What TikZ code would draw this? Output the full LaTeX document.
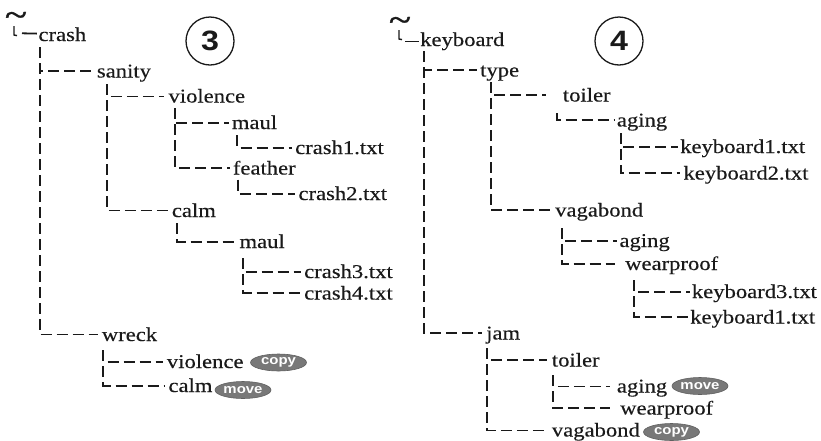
\documentclass[tikz,border=0pt]{standalone}
\usepackage{fontspec}
\setmainfont{Liberation Serif}[FakeStretch=1.16,FakeBold=0.3]
\newfontfamily\badgefont{Liberation Sans}[FakeStretch=1.15]
\newfontfamily\homefont{Liberation Serif}[FakeStretch=1.2,FakeBold=1.2]
\usetikzlibrary{shapes.geometric}
\definecolor{ink}{HTML}{1A1A1A}
\definecolor{badgegray}{HTML}{787878}
\begin{document}
\begin{tikzpicture}[x=1pt,y=-1pt,
  lbl/.style={anchor=base west, inner sep=0pt, text=ink, font=\fontsize{19.5}{21}\selectfont},
  conn/.style={draw=ink, line width=1.8pt, dash pattern=on 11pt off 5pt},
  rootdash/.style={draw=ink, line width=1.8pt},
  hook/.style={draw=ink, line width=1.4pt},
  home/.style={inner sep=0pt, text=ink, font=\homefont\fontsize{34}{34}\selectfont},
  badge/.style={ellipse, fill=badgegray, draw=badgegray!80!black, line width=0.6pt, text=white, inner sep=0pt, minimum width=56pt, minimum height=17pt, font=\badgefont\bfseries\fontsize{13}{13}\selectfont},
  numc/.style={circle, draw=ink, line width=1.3pt, minimum size=48pt, inner sep=0pt, text=ink, font=\badgefont\bfseries\fontsize{28}{28}\selectfont}
]
\useasboundingbox[fill=white] (0,0) rectangle (821,440);

% ---------------- left tree ----------------
\node[home] (home3) at (16,19) {\textasciitilde};
\coordinate (hook3) at (14,26);
\coordinate (root3) at (22,33.3);
\node[numc] (n3) at (210,41) {3};

\node[lbl] (crash) at (38.3,41) {crash};
\node[lbl] (sanity) at (96.7,77.5) {sanity};
\node[lbl] (violA) at (168.3,102.5) {violence};
\node[lbl] (maulA) at (231.7,129) {maul};
\node[lbl] (crashone) at (295,154) {crash1.txt};
\node[lbl] (feather) at (232.7,174.5) {feather};
\node[lbl] (crashtwo) at (298.3,200) {crash2.txt};
\node[lbl] (calmA) at (171.7,217) {calm};
\node[lbl] (maulB) at (239.3,248) {maul};
\node[lbl] (crashthree) at (304,278) {crash3.txt};
\node[lbl] (crashfour) at (304,299.5) {crash4.txt};
\node[lbl] (wreck) at (101.7,341) {wreck};
\node[lbl] (violB) at (166.7,368) {violence};
\node[lbl] (calmB) at (168.3,392) {calm};
\node[badge] (copyA) at (278.5,362.5) {copy};
\node[badge] (moveA) at (243,390) {move};

\draw[hook] (hook3) -- ++(0,9) -- ++(3,0.6);
\draw[rootdash] (root3) -- ([xshift=-1.5pt,yshift=7.4pt]crash.base west);

\draw[conn] ([xshift=1.7pt,yshift=-6pt]crash.base west) |- ([xshift=-4pt,yshift=6.5pt]sanity.base west);
\draw[conn] ([xshift=1.7pt,yshift=-6pt]crash.base west) |- ([xshift=-4pt,yshift=6.5pt]wreck.base west);
\draw[conn] ([xshift=10.6pt,yshift=-6.5pt]sanity.base west) |- ([xshift=-4pt,yshift=6pt]violA.base west);
\draw[conn] ([xshift=10.6pt,yshift=-6.5pt]sanity.base west) |- ([xshift=-4pt,yshift=6.5pt]calmA.base west);
\draw[conn] ([xshift=6.7pt,yshift=-5.5pt]violA.base west) |- ([xshift=-3pt,yshift=6pt]maulA.base west);
\draw[conn] ([xshift=6.7pt,yshift=-5.5pt]violA.base west) |- ([xshift=-3pt,yshift=6.5pt]feather.base west);
\draw[conn] ([xshift=5.6pt,yshift=-6pt]maulA.base west) |- ([xshift=-3pt,yshift=6.3pt]crashone.base west);
\draw[conn] ([xshift=5.6pt,yshift=-5pt]feather.base west) |- ([xshift=-3pt,yshift=6.3pt]crashtwo.base west);
\draw[conn] ([xshift=5.6pt,yshift=-6pt]calmA.base west) |- ([xshift=-3pt,yshift=6.3pt]maulB.base west);
\draw[conn] ([xshift=4pt,yshift=-10pt]maulB.base west) |- ([xshift=-3pt,yshift=6.3pt]crashthree.base west);
\draw[conn] ([xshift=4pt,yshift=-10pt]maulB.base west) |- ([xshift=-3pt,yshift=6.8pt]crashfour.base west);
\draw[conn] ([xshift=1.6pt,yshift=-9pt]wreck.base west) |- ([xshift=-4pt,yshift=6.3pt]violB.base west);
\draw[conn] ([xshift=1.6pt,yshift=-9pt]wreck.base west) |- ([xshift=-4pt,yshift=6.3pt]calmB.base west);

% ---------------- right tree ----------------
\node[home] (home4) at (400,24) {\textasciitilde};
\coordinate (hook4) at (399,30);
\coordinate (root4) at (405,41.5);
\node[numc] (n4) at (619,41) {4};

\node[lbl] (keyboard) at (420,46) {keyboard};
\node[lbl] (type) at (480,76.5) {type};
\node[lbl] (toilerA) at (562.7,101.5) {toiler};
\node[lbl] (agingA) at (616.7,126.5) {aging};
\node[lbl] (kbone) at (680,153) {keyboard1.txt};
\node[lbl] (kbtwo) at (683.3,179.5) {keyboard2.txt};
\node[lbl] (vagA) at (555,216.5) {vagabond};
\node[lbl] (agingB) at (619.3,247) {aging};
\node[lbl] (wearA) at (625,270) {wearproof};
\node[lbl] (kbthree) at (691.7,298) {keyboard3.txt};
\node[lbl] (kbfour) at (690,323.5) {keyboard1.txt};
\node[lbl] (jam) at (486,339.5) {jam};
\node[lbl] (toilerB) at (551.7,366.5) {toiler};
\node[lbl] (agingC) at (616.7,392.5) {aging};
\node[lbl] (wearB) at (620,414.5) {wearproof};
\node[lbl] (vagB) at (551.7,436.5) {vagabond};
\node[badge] (moveB) at (700,386) {move};
\node[badge] (copyB) at (671.5,432) {copy};

\draw[hook] (hook4) -- ++(0,9) -- ++(3,0.6);
\draw[rootdash] (root4) -- ([xshift=-1.5pt,yshift=4.5pt]keyboard.base west);

\draw[conn] ([xshift=4.3pt,yshift=-5pt]keyboard.base west) |- ([xshift=-3pt,yshift=6.5pt]type.base west);
\draw[conn] ([xshift=4.3pt,yshift=-5pt]keyboard.base west) |- ([xshift=-4pt,yshift=6.2pt]jam.base west);
\draw[conn] ([xshift=11pt,yshift=-5.5pt]type.base west) |- ([xshift=-17pt,yshift=6.5pt]toilerA.base west);
\draw[conn] ([xshift=11pt,yshift=-5.5pt]type.base west) |- ([xshift=-2pt,yshift=6.5pt]vagA.base west);
\draw[conn] ([xshift=-6pt,yshift=-11.5pt]toilerA.base west) |- ([xshift=-2pt,yshift=6.5pt]agingA.base west);
\draw[conn] ([xshift=4pt,yshift=-6.5pt]agingA.base west) |- ([xshift=-2pt,yshift=6.3pt]kbone.base west);
\draw[conn] ([xshift=4pt,yshift=-6.5pt]agingA.base west) |- ([xshift=-3pt,yshift=6.3pt]kbtwo.base west);
\draw[conn] ([xshift=6.7pt,yshift=-11.5pt]vagA.base west) |- ([xshift=-2pt,yshift=6.3pt]agingB.base west);
\draw[conn] ([xshift=6.7pt,yshift=-11.5pt]vagA.base west) |- ([xshift=-10pt,yshift=6pt]wearA.base west);
\draw[conn] ([xshift=9pt,yshift=-10pt]wearA.base west) |- ([xshift=-2pt,yshift=6.3pt]kbthree.base west);
\draw[conn] ([xshift=9pt,yshift=-10pt]wearA.base west) |- ([xshift=-1pt,yshift=6.3pt]kbfour.base west);
\draw[conn] ([xshift=1.3pt,yshift=-8.5pt]jam.base west) |- ([xshift=-5pt,yshift=6.5pt]toilerB.base west);
\draw[conn] ([xshift=1.3pt,yshift=-8.5pt]jam.base west) |- ([xshift=-5pt,yshift=6pt]vagB.base west);
\draw[conn] ([xshift=1.6pt,yshift=-8.5pt]toilerB.base west) |- ([xshift=-7pt,yshift=6pt]agingC.base west);
\draw[conn] ([xshift=1.6pt,yshift=-8.5pt]toilerB.base west) |- ([xshift=-10pt,yshift=6.2pt]wearB.base west);
\end{tikzpicture}
\end{document}
